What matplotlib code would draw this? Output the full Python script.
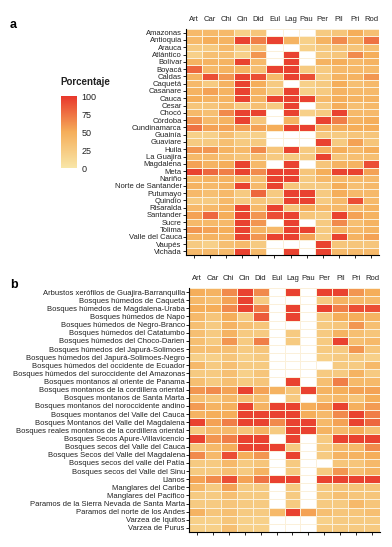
import numpy as np
import matplotlib
matplotlib.use("Agg")
import matplotlib.pyplot as plt
from matplotlib.colors import LinearSegmentedColormap

plt.rcParams['font.family'] = ['Liberation Sans', 'DejaVu Sans']

# column labels shared by both panels
columns = ["Art", "Car", "Chi", "Cin", "Did", "Eul", "Lag", "Pau", "Per", "Pil", "Pri", "Rod"]

# panel a: departments
departments = ["Amazonas", "Antioquia", "Arauca", "Atlántico", "Bolívar", "Boyacá", "Caldas",
               "Caquetá", "Casanare", "Cauca", "Cesar", "Chocó", "Córdoba", "Cundinamarca",
               "Guainía", "Guaviare", "Huila", "La Guajira", "Magdalena", "Meta", "Nariño",
               "Norte de Santander", "Putumayo", "Quindío", "Risaralda", "Santander", "Sucre",
               "Tolima", "Valle del Cauca", "Vaupés", "Vichada"]

N = None  # no data (white cell)
dept_values = [
    [40, 40, 40, 20, 30, N, N, N, 25, 30, 50, 35],
    [40, 50, 45, 95, 70, 95, 45, 20, 45, 65, 45, 75],
    [25, 25, 40, 20, 30, N, N, 20, 25, 30, 30, 35],
    [20, 35, 35, 20, 60, N, 95, N, 25, 30, 65, 50],
    [45, 45, 45, 95, 40, N, 95, N, 45, 50, 40, 45],
    [80, 40, 45, 45, 35, 95, 95, 25, 25, 40, 40, 40],
    [45, 90, 60, 95, 90, 40, 95, 90, 25, 45, 45, 60],
    [40, 25, 45, 95, 50, 25, N, 20, 25, 50, 35, 40],
    [45, 55, 45, 95, 45, 25, 95, 20, 25, 45, 40, 40],
    [50, 45, 45, 95, 45, 95, 95, 95, 40, 50, 45, 45],
    [30, 30, 40, 25, 35, 25, 95, N, 25, 50, 35, 40],
    [40, 35, 65, 95, 95, N, 95, 20, 25, 95, 40, 40],
    [60, 40, 45, 95, 30, N, 45, N, 95, 70, 45, 50],
    [75, 55, 55, 55, 55, 50, 95, 95, 45, 50, 50, 50],
    [20, 20, 35, 20, 20, N, N, N, 25, 25, 30, 30],
    [25, 25, 35, 25, 25, N, N, N, 95, 25, 55, 30],
    [60, 60, 45, 40, 65, 30, 95, 25, 45, 50, 40, 50],
    [40, 40, 35, 30, 35, 25, 25, 25, 95, 30, 35, 35],
    [55, 45, 50, 95, 40, N, 95, N, 30, 45, 45, 90],
    [95, 80, 70, 95, 65, 95, 95, 30, 50, 95, 95, 55],
    [40, 45, 45, 45, 35, 95, 95, 25, 40, 40, 40, 40],
    [45, 40, 45, 95, 40, 95, 30, 25, 25, 50, 35, 40],
    [40, 35, 40, 25, 80, 25, 95, 95, 25, 50, 40, 40],
    [25, 25, 40, 25, 30, 25, 95, 95, 25, 40, 90, 40],
    [40, 40, 45, 95, 40, 95, 30, 50, 40, 40, 35, 45],
    [55, 80, 50, 95, 60, 90, 95, 30, 25, 95, 55, 45],
    [40, 40, 40, 95, 60, N, 95, N, 25, 65, 35, 45],
    [60, 55, 50, 95, 45, 40, 95, 95, 25, 45, 40, 45],
    [45, 45, 45, 95, 60, 95, 95, 55, 25, 95, 45, 55],
    [25, 20, 35, 40, 25, N, N, N, 95, 30, 30, 30],
    [40, 40, 40, 95, 40, N, 95, N, 95, 40, 40, 40],
]

# panel b: ecoregions
ecoregions = ["Arbustos xerófilos de Guajira-Barranquilla", "Bosques húmedos de Caquetá",
              "Bosques húmedos de Magdalena-Uraba", "Bosques húmedos de Napo",
              "Bosques húmedos de Negro-Branco", "Bosques húmedos del Catatumbo",
              "Bosques húmedos del Choco-Darien", "Bosques húmedos del Japurá-Solimoes",
              "Bosques húmedos del Japurá-Solimoes-Negro", "Bosques húmedos del occidente de Ecuador",
              "Bosques húmedos del suroccidente del Amazonas", "Bosques montanos al oriente de Panama",
              "Bosques montanos de la cordillera oriental", "Bosques montanos de Santa Marta",
              "Bosques montanos del noroccidente andino", "Bosques montanos del Valle del Cauca",
              "Bosques Montanos del Valle del Magdalena", "Bosques reales montanos de la cordillera oriental",
              "Bosques Secos Apure-Villavicencio", "Bosques secos del Valle del Cauca",
              "Bosques Secos del Valle del Magdalena", "Bosques secos del valle del Patía",
              "Bosques secos del Valle del Sinu", "Llanos", "Manglares del Caribe",
              "Manglares del Pacifico", "Paramos de la Sierra Nevada de Santa Marta",
              "Paramos del norte de los Andes", "Varzea de Iquitos", "Varzea de Purus"]

eco_values = [
    [50, 45, 65, 95, 65, N, 95, N, 95, 95, 60, 50],
    [40, 35, 55, 95, 25, N, N, N, 25, 45, 40, 40],
    [50, 50, 65, 95, 70, N, 95, N, 95, 70, 90, 90],
    [40, 30, 50, 25, 85, N, 95, N, 25, 50, 50, 45],
    [35, 25, 45, 35, 30, N, N, N, 25, 30, 60, 35],
    [35, 25, 45, 25, 25, N, 25, N, 25, 45, 35, 30],
    [35, 25, 60, 25, 70, N, 25, N, 25, 95, 35, 40],
    [35, 35, 35, 25, 30, N, N, N, 25, 25, 60, 30],
    [20, 20, 30, 20, 25, N, N, N, 20, 25, 25, 20],
    [40, 25, 35, 25, 25, N, N, N, N, 25, 25, 40],
    [25, 25, 35, 20, 30, N, N, N, 25, 25, 45, 25],
    [35, 25, 35, 25, 30, N, 95, N, 35, 70, 40, 40],
    [60, 65, 55, 95, 55, 45, 30, 95, 45, 50, 55, 55],
    [35, 30, 40, 35, 35, N, 25, N, 35, 40, 30, 50],
    [58, 45, 48, 95, 45, 95, 95, 50, 55, 95, 48, 58],
    [45, 50, 50, 95, 95, 95, 95, 50, 40, 65, 95, 70],
    [95, 55, 70, 95, 95, 65, 95, 95, 40, 55, 95, 80],
    [25, 40, 40, 30, 45, 25, 95, 95, 45, 40, 50, 35],
    [95, 60, 70, 95, 95, N, 95, N, 25, 95, 95, 95],
    [30, 40, 50, 95, 95, 95, 25, N, 25, 40, 40, 65],
    [65, 40, 90, 50, 60, N, 95, N, 25, 45, 45, 50],
    [25, 25, 40, 25, 30, N, 25, N, N, 30, 30, 40],
    [25, 25, 35, 25, 45, N, 25, N, 25, 60, 35, 45],
    [55, 65, 90, 55, 75, 95, 95, N, 95, 95, 95, 95],
    [40, 25, 55, 25, 25, N, 25, N, 25, 30, 30, 30],
    [25, 25, 35, 25, 25, N, 25, N, 25, 35, 30, 30],
    [25, 25, 30, 25, 25, N, 25, N, 25, 25, 40, 30],
    [45, 30, 35, 25, 25, 40, 95, 55, 35, 30, 30, 35],
    [20, 20, 30, 20, 20, N, N, N, 20, 25, 25, 25],
    [20, 20, 35, 20, 20, N, N, N, 25, 25, 25, 25],
]

cmap = LinearSegmentedColormap.from_list("porc", ["#F8E6A8", "#F5AE5A", "#E8372C"])
cmap.set_bad("white")

W, H = 392, 547
fig = plt.figure(figsize=(W / 100, H / 100), dpi=100)


def fig_box(x0, y0, x1, y1):
    # pixel box -> figure fraction [left, bottom, width, height]
    return [x0 / W, 1 - y1 / H, (x1 - x0) / W, (y1 - y0) / H]


def draw_heatmap(ax, rows, values):
    data = np.array([[np.nan if v is None else v for v in r] for r in values], dtype=float)
    data = np.ma.masked_invalid(data)
    mesh = ax.pcolormesh(data, cmap=cmap, vmin=0, vmax=100, edgecolors="#FBF0DA", linewidth=0.6)
    ax.set_xlim(0, len(columns))
    ax.set_ylim(len(rows), 0)
    ax.set_xticks(np.arange(len(columns)) + 0.5)
    ax.set_xticklabels(columns, fontsize=5.5, color="#222222")
    ax.set_yticks(np.arange(len(rows)) + 0.5)
    ax.set_yticklabels(rows, fontsize=5.5, color="#222222")
    ax.tick_params(axis="x", top=False, bottom=True, labeltop=True, labelbottom=False,
                   length=2, width=0.6, pad=2.5)
    ax.tick_params(axis="y", length=2, width=0.6, pad=1)
    for side in ["top", "right"]:
        ax.spines[side].set_visible(False)
    for side in ["left", "bottom"]:
        ax.spines[side].set_linewidth(0.8)
    return mesh


ax_a = fig.add_axes(fig_box(186, 29, 379, 255))
mesh = draw_heatmap(ax_a, departments, dept_values)

ax_b = fig.add_axes(fig_box(189, 288, 380, 532))
draw_heatmap(ax_b, ecoregions, eco_values)

fig.text(10 / W, 1 - 25 / H, "a", fontsize=9, fontweight="bold", va="center")
fig.text(10 / W, 1 - 285 / H, "b", fontsize=9, fontweight="bold", va="center")

# colour legend
cax = fig.add_axes(fig_box(61, 96, 77, 168))
cb = fig.colorbar(mesh, cax=cax, ticks=[0, 25, 50, 75, 100])
cb.outline.set_visible(False)
cb.ax.tick_params(length=0, labelsize=6.5, pad=3, colors="#222222")
fig.text(60 / W, 1 - 82 / H, "Porcentaje", fontsize=7, fontweight="bold", va="center", color="#222222")

fig.savefig("out.png", dpi=100)
